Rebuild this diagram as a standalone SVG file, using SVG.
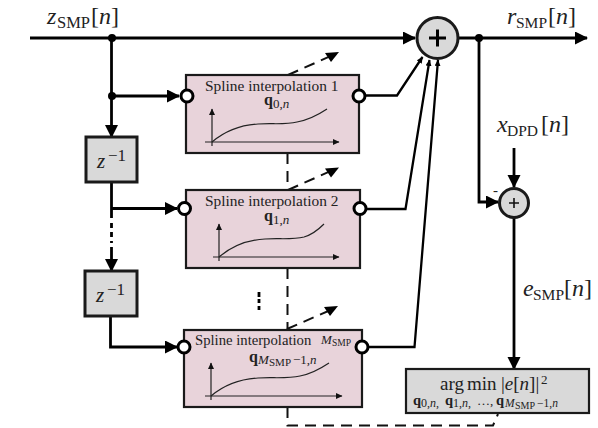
<svg xmlns="http://www.w3.org/2000/svg" width="598" height="428" viewBox="0 0 598 428">
<style>
.w{fill:none;stroke:#000;stroke-width:2.8}
.o{fill:none;stroke:#000;stroke-width:2.300}
.d{fill:none;stroke:#111;stroke-width:2;stroke-dasharray:11 7}
.b{fill:#e8d3da;stroke:#1a1a1a;stroke-width:2.200}
.g{fill:#d9d9d9;stroke:#1a1a1a;stroke-width:3}
.p{fill:#fff;stroke:#000;stroke-width:3}
.ax{fill:none;stroke:#222;stroke-width:1.200}
text{font-family:"Liberation Serif",serif;fill:#222}
.i{font-style:italic}
.q{font-weight:bold}
.j{fill:#000}
</style>
<defs>
<marker id="a" markerUnits="userSpaceOnUse" markerWidth="14" markerHeight="14" refX="12" refY="6.500" orient="auto"><path d="M0 0L13 6.500L0 13z" fill="#000"/></marker>
<marker id="sm" markerUnits="userSpaceOnUse" markerWidth="8" markerHeight="8" refX="6" refY="3" orient="auto"><path d="M0 0L6.500 3L0 6z" fill="#000"/></marker>
<marker id="ax" markerUnits="userSpaceOnUse" markerWidth="8" markerHeight="8" refX="6" refY="3" orient="auto"><path d="M0 0L6.500 3L0 6z" fill="#111"/></marker>
</defs>
<g id="connectors">
<path class="w" d="M30 38H415" marker-end="url(#a)"/>
<path class="w" d="M458 38H587" marker-end="url(#a)"/>
<path class="w" d="M111.500 38V137" marker-end="url(#a)"/>
<path class="w" d="M111.500 96H179" marker-end="url(#a)"/>
<path class="w" d="M111.500 182V218"/>
<path class="w" d="M111.500 208.500H177" marker-end="url(#a)"/>
<path class="w" d="M111.500 223V243" stroke-dasharray="5 4"/>
<path class="w" d="M111.500 247V271" marker-end="url(#a)"/>
<path class="w" d="M110.500 316V347H177" marker-end="url(#a)"/>
<path class="o" d="M365 95.500H397L422.500 57" marker-end="url(#sm)"/>
<path class="o" d="M366 209H405.500L429.500 60" marker-end="url(#sm)"/>
<path class="o" d="M368 347H414.500L438 60" marker-end="url(#sm)"/>
<path class="w" d="M479 38V202H498" marker-end="url(#a)"/>
<path class="w" d="M514 148V187" marker-end="url(#a)"/>
<path class="w" d="M514 217V369" marker-end="url(#a)"/>
<path class="d" d="M287.500 153V190"/>
<path class="d" d="M287.500 268V330"/>
<path class="d" d="M287.500 407V425.500H493L498 414"/>
<path class="d" d="M288 75L333 55"/><path class="j" d="M339 52L325 53L331 62z"/>
<path class="d" d="M288 190L333 170"/><path class="j" d="M339 167.500L325 168.500L331 177.500z"/>
<path class="d" d="M287 329L333 309"/><path class="j" d="M338 306L324 307L330 316z"/>
<circle class="j" cx="112" cy="38" r="4"/>
<circle class="j" cx="112" cy="96" r="4"/>
<circle class="j" cx="479" cy="38" r="4"/>
<path d="M259 292V297M259 299V303M259 306V310" fill="none" stroke="#000" stroke-width="2.800"/>
</g>
<g id="block1">
<rect class="b" x="186" y="75" width="173" height="78"/>
<text x="205" y="91" font-size="15.400">Spline interpolation 1</text>
<text class="q" x="264" y="105" font-size="16">q</text>
<text x="273" y="108" font-size="13">0,<tspan class="i">n</tspan></text>
<path class="ax" d="M205 142H339" marker-end="url(#ax)"/><path class="ax" d="M212 146V109" marker-end="url(#ax)"/>
<path class="ax" d="M212 142C225 131 240 125 258 124C272 123 285 125 297 122C308 120 318 115 327 109"/>
<circle class="p" cx="187" cy="96" r="6"/><circle class="p" cx="359" cy="96" r="6"/>
</g>
<g id="block2">
<rect class="b" x="186" y="190" width="174" height="78"/>
<text x="205" y="206" font-size="15.400">Spline interpolation 2</text>
<text class="q" x="264" y="221" font-size="16">q</text>
<text x="273" y="224" font-size="13">1,<tspan class="i">n</tspan></text>
<path class="ax" d="M213 257H339" marker-end="url(#ax)"/><path class="ax" d="M219 261V224" marker-end="url(#ax)"/>
<path class="ax" d="M219 257C232 246 247 240 265 239C279 238 292 240 304 237C311 235 318 230 324 224"/>
<circle class="p" cx="184.500" cy="208.500" r="6"/><circle class="p" cx="360" cy="208.500" r="6"/>
</g>
<g id="block3">
<rect class="b" x="184" y="330" width="178" height="77"/>
<text x="195" y="345" font-size="14.700">Spline interpolation</text>
<text class="i" x="321" y="344" font-size="13">M</text>
<text x="332" y="346" font-size="9.500">SMP</text>
<text class="q" x="249" y="362" font-size="16">q</text>
<text class="i" x="258" y="364" font-size="13">M</text>
<text x="269" y="366" font-size="11">SMP</text>
<text x="293" y="364" font-size="13">−1,<tspan class="i">n</tspan></text>
<path class="ax" d="M205 396H342" marker-end="url(#ax)"/><path class="ax" d="M211 400V363" marker-end="url(#ax)"/>
<path class="ax" d="M211 396C224 385 240 379 258 378C272 377 287 379 300 376C311 374 320 369 329 363"/>
<circle class="p" cx="184" cy="347" r="6"/><circle class="p" cx="362" cy="347" r="6"/>
</g>
<g id="delay1"><rect class="g" x="86" y="137" width="51" height="45"/>
<text class="i" x="97" y="168" font-size="21">z</text><text x="108" y="161" font-size="17">−1</text></g>
<g id="delay2"><rect class="g" x="85" y="271" width="52" height="45"/>
<text class="i" x="96" y="302" font-size="21">z</text><text x="107" y="295" font-size="17">−1</text></g>
<g id="sum1"><circle class="g" cx="437.500" cy="38" r="20.500"/>
<path d="M429 38H446M437.500 29.500V46.500" fill="none" stroke="#000" stroke-width="3"/></g>
<g id="sum2"><circle class="g" cx="514" cy="203" r="14.500"/>
<path d="M509 203H519M514 198V208" fill="none" stroke="#111" stroke-width="1.600"/></g>
<g id="argmin"><rect x="406" y="369" width="183" height="44" fill="#d9d9d9" stroke="#1a1a1a" stroke-width="2.200"/>
<text x="440" y="390" font-size="19">arg</text>
<text x="467" y="390" font-size="19">min</text>
<text x="501" y="390" font-size="19">|<tspan class="i">e</tspan>[<tspan class="i">n</tspan>]|</text>
<text x="541" y="384" font-size="13">2</text>
<text class="q" x="413" y="405" font-size="14.500">q</text><text x="421" y="407" font-size="12">0,<tspan class="i">n</tspan>,</text>
<text class="q" x="445" y="405" font-size="14.500">q</text><text x="453" y="407" font-size="12">1,<tspan class="i">n</tspan>,</text>
<text x="477" y="405" font-size="13">…,</text>
<text class="q" x="496" y="405" font-size="14.500">q</text>
<text class="i" x="505" y="407" font-size="11.500">M</text>
<text x="515" y="408.500" font-size="10">SMP</text>
<text x="537" y="407" font-size="11.500">−1,<tspan class="i">n</tspan></text></g>
<g id="labels">
<text class="i" x="47" y="24" font-size="24">z</text><text x="57" y="28" font-size="16.500">SMP</text><text x="91" y="24" font-size="24">[<tspan class="i">n</tspan>]</text>
<text class="i" x="507" y="24" font-size="24">r</text><text x="516" y="28" font-size="15.500">SMP</text><text x="548" y="24" font-size="24">[<tspan class="i">n</tspan>]</text>
<text class="i" x="497" y="132" font-size="24">x</text><text x="507" y="136" font-size="15.500">DPD</text><text x="541" y="132" font-size="24">[<tspan class="i">n</tspan>]</text>
<text class="i" x="523" y="296" font-size="24">e</text><text x="533" y="300" font-size="15.500">SMP</text><text x="564" y="296" font-size="24">[<tspan class="i">n</tspan>]</text>
<text x="493" y="195" font-size="15">-</text>
</g>
</svg>
